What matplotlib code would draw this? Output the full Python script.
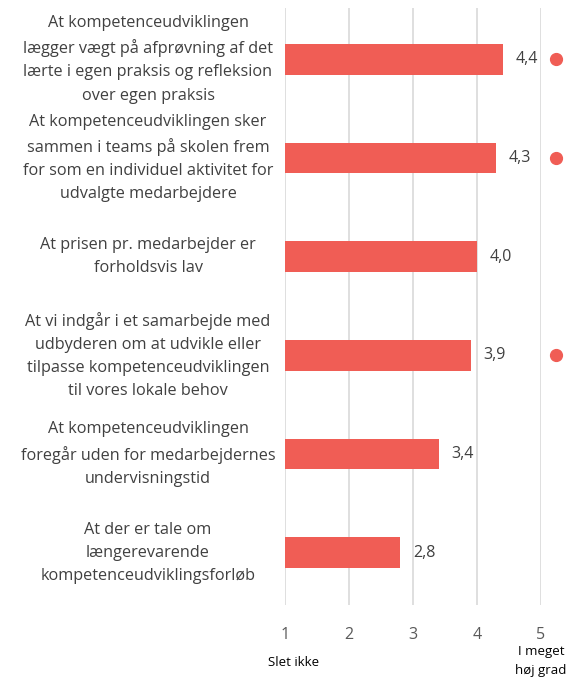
import matplotlib
matplotlib.use('agg')
from matplotlib import pyplot as plt

# data
categories = [
    "At kompetenceudviklingen\nlægger vægt på afprøvning af det\nlærte i egen praksis og refleksion\nover egen praksis",
    "At kompetenceudviklingen sker\nsammen i teams på skolen frem\nfor som en individuel aktivitet for\nudvalgte medarbejdere",
    "At prisen pr. medarbejder er\nforholdsvis lav",
    "At vi indgår i et samarbejde med\nudbyderen om at udvikle eller\ntilpasse kompetenceudviklingen\ntil vores lokale behov",
    "At kompetenceudviklingen\nforegår uden for medarbejdernes\nundervisningstid",
    "At der er tale om\nlængerevarende\nkompetenceudviklingsforløb",
]
values = [4.4, 4.3, 4.0, 3.9, 3.4, 2.8]
value_labels = ["4,4", "4,3", "4,0", "3,9", "3,4", "2,8"]
has_dot = [True, True, False, True, False, False]
dot_x = 5.23
ticks = [1, 2, 3, 4, 5]

plt.rcParams['font.family'] = ['Open Sans', 'DejaVu Sans']

W, H = 566, 679
fig = plt.figure(figsize=(W / 100, H / 100), dpi=100)
# plot area in pixels: x 285..541, y 8..605
ax = fig.add_axes([285 / W, 1 - 605 / H, (541 - 285) / W, (605 - 8) / H])

red = '#F05D55'
txt = '#404040'
n = len(values)
ypos = list(range(n))

ax.barh(ypos, [v - 1 for v in values], left=1, height=0.31, color=red, zorder=3)
for y, v, lab in zip(ypos, values, value_labels):
    ax.text(v + 0.2, y, lab, va='center', ha='left', fontsize=11.5, color=txt)
for y, d in zip(ypos, has_dot):
    if d:
        ax.plot(dot_x, y, 'o', color=red, markersize=8.5, clip_on=False, zorder=4)

ax.set_xlim(1, 5)
ax.set_ylim(n - 0.5 + 0.03, -0.5 - 0.02)
ax.set_xticks(ticks)
ax.set_xticklabels([str(t) for t in ticks])
ax.tick_params(axis='x', length=0, pad=16, labelsize=11.5, labelcolor='#595959')
ax.set_yticks(ypos)
ax.set_yticklabels([])
ax.tick_params(axis='y', length=0)
ax.grid(axis='x', color='#D9D9D9', linewidth=1.2, zorder=0)
for s in ax.spines.values():
    s.set_visible(False)

# category labels, centered at x=148 px
for y, c in zip(ypos, categories):
    ax.text(-0.535, y, c, transform=ax.get_yaxis_transform(), ha='center', va='center',
            fontsize=11.7, color=txt, linespacing=1.6)

fig.text(294 / W, 1 - 662 / H, "Slet ikke", ha='center', va='center', fontsize=9.5, color='black')
fig.text(541 / W, 1 - 661 / H, "I meget\nhøj grad", ha='center', va='center', fontsize=9.5,
         color='black', linespacing=1.6)

fig.savefig('out.png', dpi=100)
